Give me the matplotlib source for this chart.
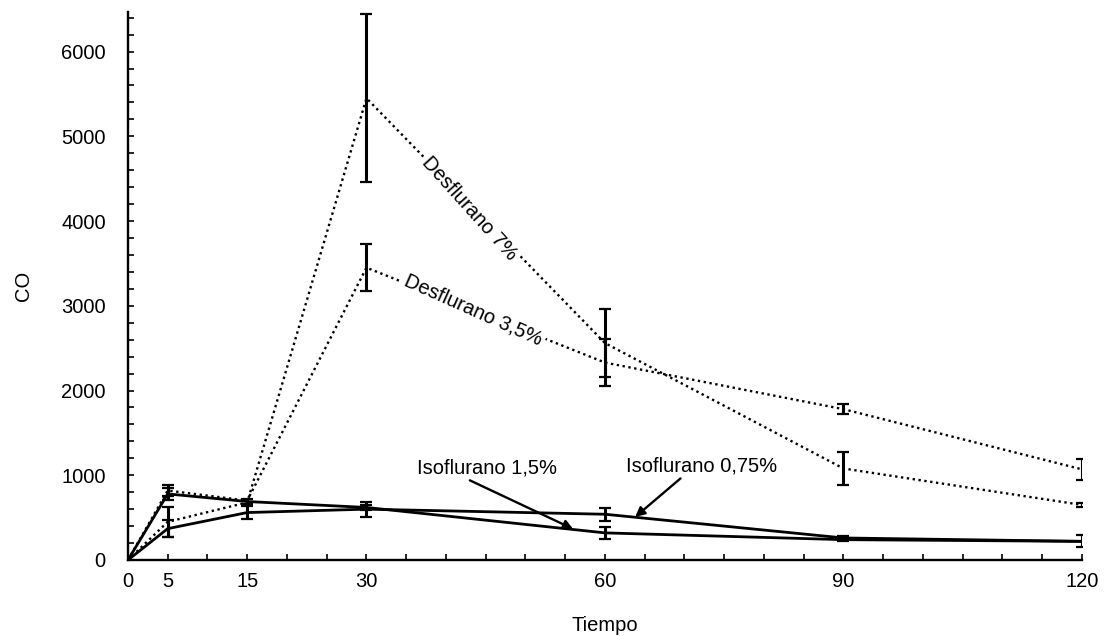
import matplotlib
matplotlib.use("Agg")
import matplotlib.pyplot as plt
from matplotlib.ticker import FixedLocator, MultipleLocator

# Datos
tiempo = [0, 5, 15, 30, 60, 90, 120]
tick_labels_x = [0, 5, 15, 30, 60, 90, 120]

iso_075 = [0, 370, 560, 600, 540, 260, 220]
iso_075_err = [0, 100, 80, 90, 75, 20, 70]

iso_15 = [0, 780, 690, 620, 320, 240, 220]
iso_15_err = [0, 70, 30, 30, 70, 20, 0]

desf_35 = [0, 820, 700, 3450, 2330, 1780, 1070]
desf_35_err = [0, 60, 0, 280, 280, 60, 120]

desf_7 = [0, 450, 680, 5450, 2560, 1080, 650]
desf_7_err = [0, 180, 0, 990, 400, 200, 20]

plt.rcParams['font.family'] = ['Liberation Sans', 'DejaVu Sans']

fig = plt.figure(figsize=(11.08, 6.36), dpi=100)
ax = fig.add_axes([0.1155, 0.1195, 0.861, 0.862])

dotted = (0, (1, 1.5))


def draw_series(y, err, ls, lw):
    ax.plot(tiempo, y, color='black', linestyle=ls, linewidth=lw, zorder=2)
    xs = [t for t, e in zip(tiempo, err) if e > 0]
    ys = [v for v, e in zip(y, err) if e > 0]
    es = [e for e in err if e > 0]
    ax.errorbar(xs, ys, yerr=es, fmt='none', ecolor='black', elinewidth=2.2,
                capsize=4, capthick=1.6, zorder=3)


draw_series(desf_7, desf_7_err, dotted, 1.7)
draw_series(desf_35, desf_35_err, dotted, 1.7)
draw_series(iso_075, iso_075_err, '-', 2.0)
draw_series(iso_15, iso_15_err, '-', 2.0)

# Etiquetas sobre las líneas de desflurano
ax.text(43.0, 4150, 'Desflurano 7%', rotation=-48, fontsize=14.5,
        ha='center', va='center', rotation_mode='anchor',
        bbox=dict(facecolor='white', edgecolor='none', pad=2), zorder=4)
ax.text(43.5, 2950, 'Desflurano 3,5%', rotation=-24, fontsize=14.5,
        ha='center', va='center', rotation_mode='anchor',
        bbox=dict(facecolor='white', edgecolor='none', pad=2), zorder=4)

# Flechas de isoflurano
ax.annotate('Isoflurano 1,5%', xy=(56.0, 366), xytext=(45.2, 1085),
            fontsize=14.5, ha='center', va='center',
            arrowprops=dict(arrowstyle='-|>', color='black', lw=1.7,
                            mutation_scale=14, shrinkA=0, shrinkB=0,
                            relpos=(0.29, 0.15)))
ax.annotate('Isoflurano 0,75%', xy=(63.8, 508), xytext=(72.2, 1108),
            fontsize=14.5, ha='center', va='center',
            arrowprops=dict(arrowstyle='-|>', color='black', lw=1.7,
                            mutation_scale=14, shrinkA=0, shrinkB=0,
                            relpos=(0.38, 0.0)))

ax.set_xlim(0, 120)
ax.set_ylim(0, 6470)

ax.xaxis.set_major_locator(FixedLocator(tick_labels_x))
ax.xaxis.set_minor_locator(MultipleLocator(5))
ax.yaxis.set_major_locator(MultipleLocator(1000))
ax.yaxis.set_minor_locator(MultipleLocator(200))

ax.tick_params(axis='both', which='both', direction='in', length=4,
               width=1.2, labelsize=14.5)
ax.tick_params(axis='y', which='both', pad=16)
ax.tick_params(axis='x', which='both', pad=9)

for side in ['top', 'right']:
    ax.spines[side].set_visible(False)
for side in ['left', 'bottom']:
    ax.spines[side].set_linewidth(1.7)

ax.set_xlabel('Tiempo', fontsize=14.5, labelpad=18)
ax.set_ylabel('CO', fontsize=14.5, labelpad=20)

fig.savefig('out.png', dpi=100)
